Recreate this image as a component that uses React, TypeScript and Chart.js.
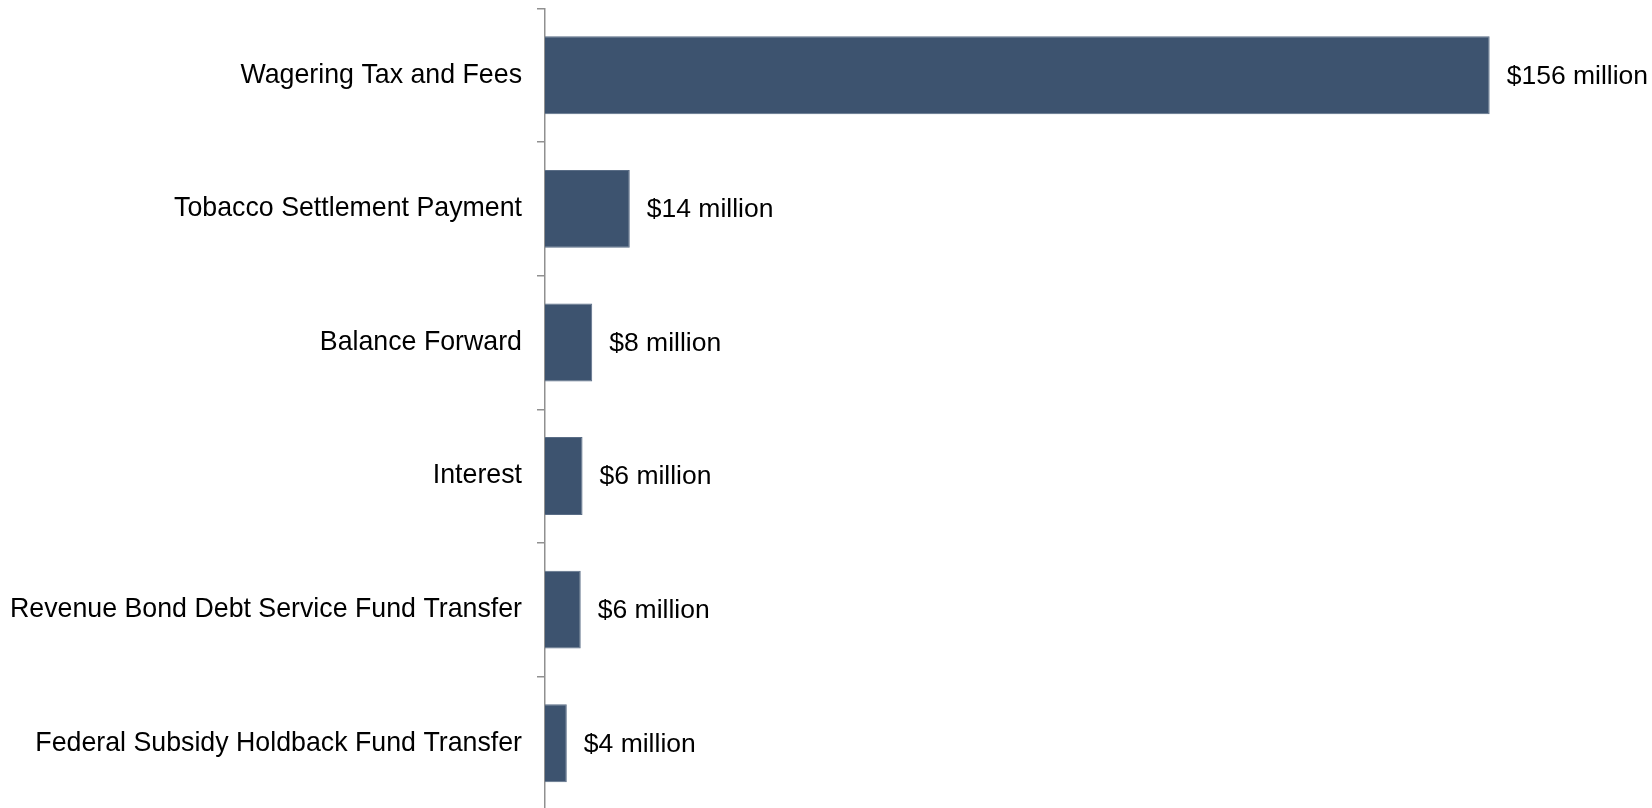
import React, { useEffect, useRef } from "react";
import { Chart, registerables } from "chart.js";

Chart.register(...registerables);

const categories = [
  "Wagering Tax and Fees",
  "Tobacco Settlement Payment",
  "Balance Forward",
  "Interest",
  "Revenue Bond Debt Service Fund Transfer",
  "Federal Subsidy Holdback Fund Transfer",
];
const values = [156, 14, 7.8, 6.2, 5.9, 3.6];
const valueLabels = ["$156 million", "$14 million", "$8 million", "$6 million", "$6 million", "$4 million"];

const FONT = '"Liberation Sans", Arial, sans-serif';

const dataLabelPlugin = {
  id: "dataLabels",
  afterDatasetsDraw(chart: any) {
    const ctx = chart.ctx;
    const meta = chart.getDatasetMeta(0);
    ctx.save();
    ctx.font = `26.5px ${FONT}`;
    ctx.fillStyle = "#000000";
    ctx.textAlign = "left";
    ctx.textBaseline = "middle";
    meta.data.forEach((bar: any, i: number) => {
      ctx.fillText(valueLabels[i], bar.x + 17, bar.y + 1);
    });
    ctx.restore();
  },
};

export default function App() {
  const ref = useRef<HTMLCanvasElement | null>(null);
  useEffect(() => {
    if (!ref.current) return;
    const chart = new Chart(ref.current, {
      type: "bar",
      data: {
        labels: categories,
        datasets: [
          {
            data: values,
            backgroundColor: "#3D536F",
            borderColor: "#5A6D86",
            borderWidth: 1,
            barPercentage: 0.583,
            categoryPercentage: 1.0,
          },
        ],
      },
      plugins: [dataLabelPlugin],
      options: {
        indexAxis: "y",
        animation: false,
        responsive: false,
        maintainAspectRatio: false,
        layout: { padding: { top: 8.5, right: 17, bottom: 0, left: 0 } },
        plugins: {
          legend: { display: false },
          tooltip: { enabled: false },
          title: { display: false },
        },
        scales: {
          x: {
            display: false,
            min: 0,
            max: 180,
          },
          y: {
            offset: true,
            grid: {
              offset: true,
              drawOnChartArea: false,
              drawTicks: true,
              tickLength: 8,
              color: "#909090",
              lineWidth: 1.5,
            },
            border: { display: true, color: "#909090", width: 1.5 },
            ticks: {
              color: "#000000",
              padding: 15,
              font: { family: FONT, size: 26.75 },
            },
            afterFit: (scale: any) => {
              scale.width = 545;
              scale.paddingTop = 0;
              scale.paddingBottom = 0;
            },
          },
        },
      },
    });
    return () => chart.destroy();
  }, []);
  return (
    <div style={{ position: "fixed", left: 0, top: 0, width: 1652, height: 810, background: "#fff" }}>
      <canvas ref={ref} width={1652} height={810} style={{ display: "block" }} />
    </div>
  );
}
